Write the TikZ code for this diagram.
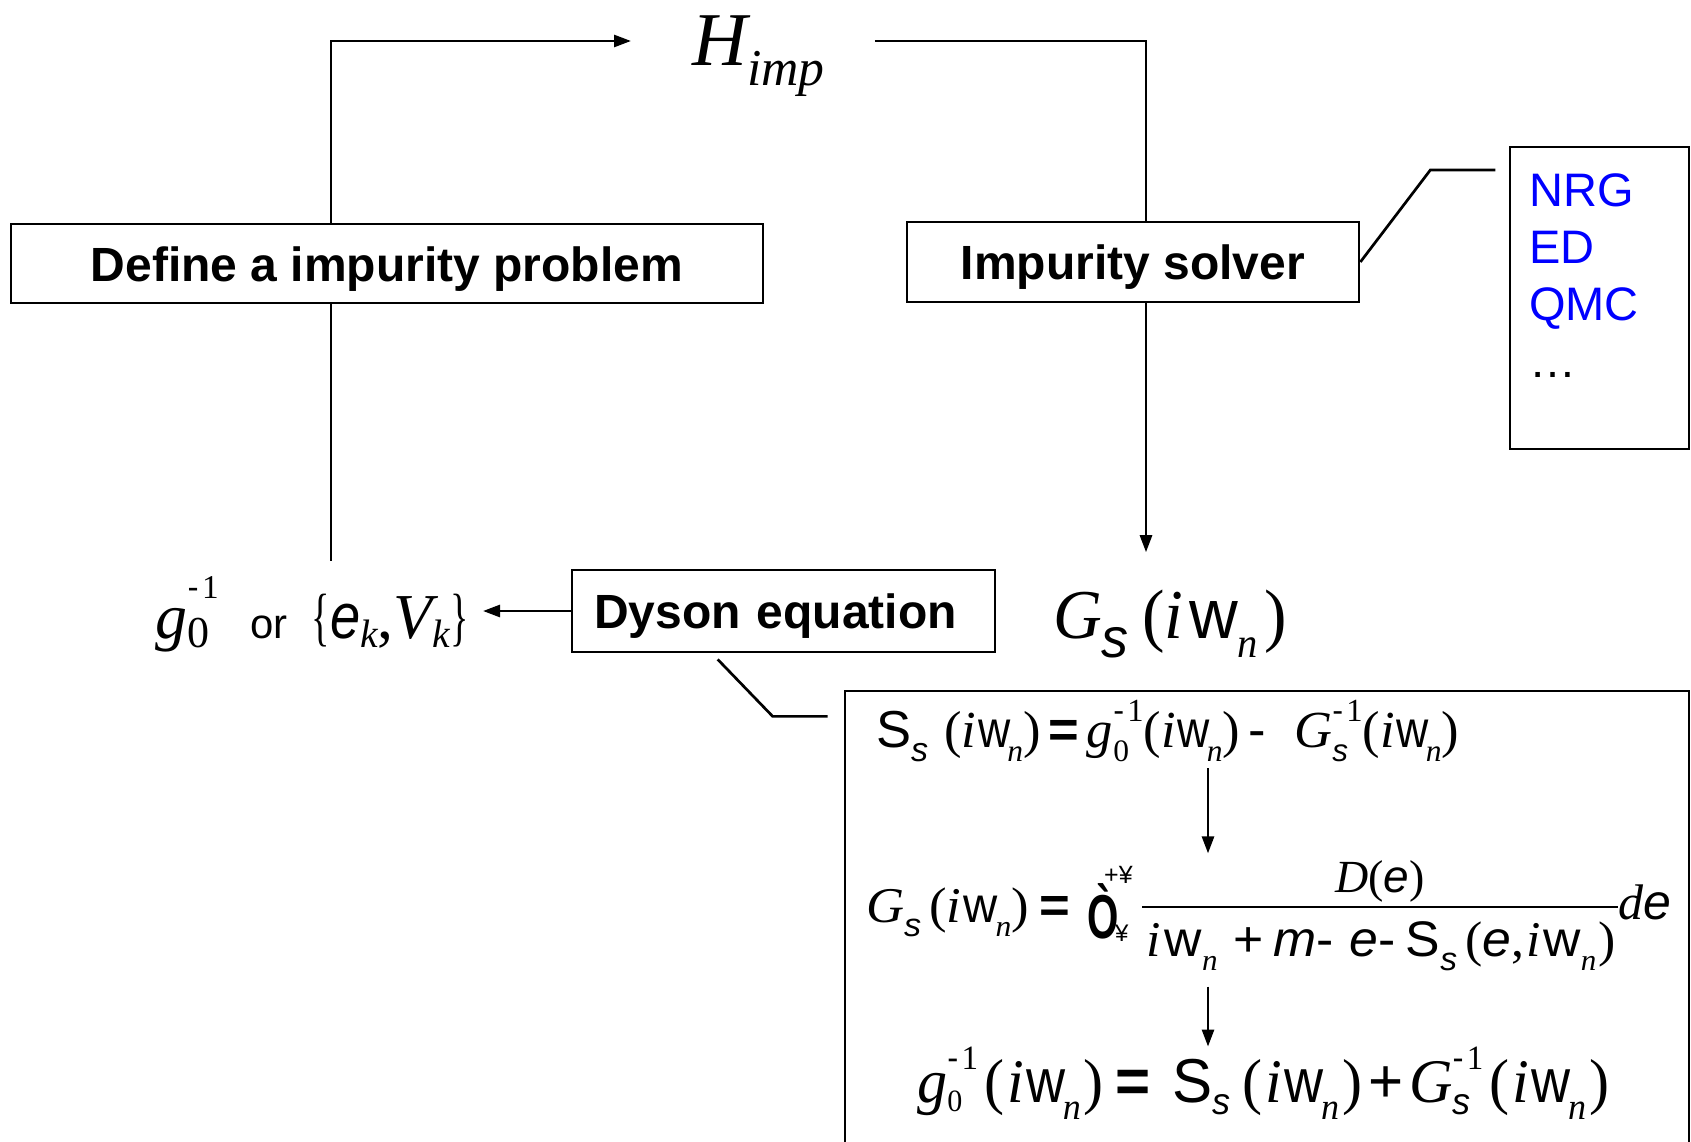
\documentclass[tikz,border=0pt]{standalone}
\usepackage{fontspec}
\usepackage{graphicx}
\setmainfont{Liberation Sans}
\newfontfamily\tmsf{Liberation Serif}
\newfontfamily\arsf{Liberation Sans}
\usetikzlibrary{arrows.meta,calc}
\definecolor{nrgblue}{RGB}{0,0,255}
\makeatletter
\newcommand\rs[1]{\fontsize{\fpeval{#1*\f@size}}{\fpeval{1.2*#1*\f@size}}\selectfont}
\makeatother
\newcommand\fs[1]{\fontsize{#1}{#1}\selectfont}
\newcommand\ti[1]{{\tmsf\itshape #1}}
\newcommand\tu[1]{{\tmsf #1}}
\newcommand\ai[1]{{\arsf\itshape #1}}
\newcommand\au[1]{{\arsf #1}}
\newcommand\lo[3][0.28]{\raisebox{-#1em}{\rs{#2}#3}}
\newcommand\hi[3][0.55]{\raisebox{#1em}{\rs{#2}#3}}
\newcommand\W[1][1]{\scalebox{#1}[1]{\au{w}}}
\newcommand\ep[1][1]{\scalebox{#1}[1]{\ai{e}}}
% (i w_n): inner space, w scale, kern before n
\newcommand\iwnx[3]{\tu{(}\hspace{#1em}\ti{i}\hspace{0.04em}\W[#2]\hspace{#3em}\lo{0.6}{\ti{n}}\hspace{#1em}\tu{)}}
\newcommand\mone{\au{-}\hspace{0.1em}\tu{1}}
\begin{document}
\begin{tikzpicture}[x=1pt,y=-1pt,
  conn/.style={line width=2.7pt},
  arr/.style={conn,-{Triangle[length=17pt,width=12pt]}},
  box/.style={draw,line width=2.7pt,inner sep=0pt,font={\fs{48}\bfseries},text height=40pt,text depth=5pt},
  eqn/.style={inner sep=0pt,anchor=base west}]
\useasboundingbox (0,0) rectangle (1691,1142);
\clip (0,0) rectangle (1691,1142);

% boxes
\node[box,minimum width=752pt,minimum height=79pt] (def) at (387,263.5) {Define a impurity problem};
\node[box,minimum width=452pt,minimum height=80pt] (solver) at (1133,262) {Impurity solver};
\node[box,minimum width=423pt,minimum height=82pt,text width=379pt,align=left,inner xsep=22pt] (dyson) at (783.5,611) {Dyson equation};
\node[draw,line width=2.7pt,minimum width=179pt,minimum height=302pt,inner sep=0pt] (nrg) at (1599.5,298) {};
\node[eqn,font=\fs{47},text=nrgblue] (m1) at (1529,207) {NRG};
\node[eqn,font=\fs{47},text=nrgblue] (m2) at (1529,263) {ED};
\node[eqn,font=\fs{47},text=nrgblue] (m3) at (1529,320) {QMC};
\node[eqn,font=\fs{47}] (m4) at (1529,377) {…};

% H_imp
\node[anchor=base west,inner xsep=61pt,inner ysep=0pt,text height=56pt,text depth=6pt] (H) at (631,66)
  {\fs{76}\ti{H}\lo[0.26]{0.68}{\ti{imp}}\hspace*{-11pt}};

% g0 or {e_k,V_k}
\node[anchor=base east,inner xsep=14pt,inner ysep=15pt] (gnode) at (483,638)
  {\resizebox{313pt}{\height}{\fs{64}\ti{g}\makebox[0pt][l]{\lo[0.15]{0.69}{\tu{0}}}\hi[0.62]{0.52}{\mone}\hspace{32pt}{\fs{42}\au{or}}\hspace{24pt}\scalebox{0.6}[1]{\tu{\{}}\ep[0.85]\lo[0.15]{0.62}{\ti{k}}\tu{,}\ti{V}\lo[0.15]{0.62}{\ti{k}}\scalebox{0.6}[1]{\tu{\}}}}};

% G_s(iw_n)
\node[anchor=base west,inner xsep=0pt,inner ysep=37pt] (gs) at (1053,638)
  {\resizebox{234pt}{\height}{\fs{70}\ti{G}\lo[0.28]{0.8}{\ai{s}}\hspace{0.2em}\tu{(}\ti{i}\hspace{0.08em}\W\lo[0.28]{0.6}{\ti{n}}\hspace{0.1em}\tu{)}}};

% connectors
\coordinate (jl) at (331,0);
\coordinate (jr) at (1146,0);
\coordinate (jm) at (1208,0);
\draw[arr] (jl |- def.north) |- (H.west);
\draw[conn] (H.east) -| (jr |- solver.north);
\draw[arr] (jr |- solver.south) -- (jr |- gs.north);
\draw[conn] (jl |- def.south) -- (jl |- gnode.north);
\draw[arr] (dyson.west) -- (dyson.west -| gnode.east);
\draw[conn] (solver.east) -- ++(70,-92) -- ++(65,0);
\draw[conn] ($(dyson.south west)+(147,6)$) -- ++(55,57) -- ++(55,0);

% equation box
\draw[conn] (845,1160) -- (845,691) -- (1689,691) -- (1689,1160);

% eq1
\node[anchor=base west,inner xsep=0pt,inner ysep=6pt] (eq1) at (876,747)
  {\resizebox{583pt}{\height}{\fs{52}\au{S}\lo{0.65}{\ai{s}}\hspace{0.3em}\iwnx{0}{0.85}{-0.06}\hspace{0.15em}{\bfseries\au{=}}\hspace{0.15em}\ti{g}\makebox[0pt][l]{\lo{0.6}{\tu{0}}}\hi[0.5]{0.62}{\mone}\iwnx{0}{0.85}{-0.06}\hspace{0.15em}\au{-}\hspace{0.55em}\ti{G}\makebox[0pt][l]{\lo{0.6}{\ai{s}}}\hi[0.5]{0.62}{\mone}\iwnx{0}{0.85}{-0.06}}};

% eq2
\node[eqn] (lhs) at (866,922) {\resizebox{204pt}{\height}{\fs{50}\ti{G}\lo{0.65}{\ai{s}}\hspace{0.15em}\iwnx{0}{0.9}{-0.04}\hspace{0.2em}{\bfseries\au{=}}}};
\node[eqn] (int) at (1087,938) {\scalebox{0.65}[1]{\fs{62}\bfseries\au{Ò}}};
\node[eqn] (up) at (1104,883) {\fs{25}\au{+¥}};
\node[eqn] (dn) at (1115,941) {\fs{24}\au{¥}};
\node[anchor=base,inner xsep=0pt,inner ysep=6.5pt] (num) at (1380,892) {\fs{46}\ti{D}\tu{(}\ep\tu{)}};
\node[anchor=base west,inner xsep=0pt,inner ysep=16pt] (den) at (1146,956)
  {\resizebox{470pt}{\height}{\fs{50}\ti{i}\hspace{0.08em}\W\lo{0.6}{\ti{n}}\hspace{0.3em}\au{+}\hspace{0.2em}\ai{m}\au{-}\hspace{0.3em}\ep\au{-}\hspace{0.2em}\au{S}\lo{0.65}{\ai{s}}\hspace{0.15em}\tu{(}\ep\tu{,}\hspace{0.05em}\ti{i}\hspace{0.05em}\W\lo{0.6}{\ti{n}}\hspace{0.05em}\tu{)}}};
\draw[conn] (1142,907) -- (1618,907);
\node[eqn] (de) at (1618,919) {\fs{50}\ti{d}\ep};

% eq3
\node[anchor=base west,inner xsep=0pt,inner ysep=0.5pt] (eq3) at (917,1102)
  {\resizebox{692pt}{\height}{\fs{62}\ti{g}\makebox[0pt][l]{\lo[0.15]{0.5}{\tu{0}}}\hi[0.52]{0.55}{\mone}\hspace{0.1em}\iwnx{0.05}{0.9}{-0.04}\hspace{0.2em}{\bfseries\au{=}}\hspace{0.35em}\au{S}\lo[0.2]{0.6}{\ai{s}}\hspace{0.2em}\iwnx{0.05}{0.9}{-0.04}\hspace{0.1em}\au{+}\hspace{0.1em}\ti{G}\makebox[0pt][l]{\lo[0.2]{0.6}{\ai{s}}}\hi[0.52]{0.55}{\mone}\hspace{0.1em}\iwnx{0.05}{0.9}{-0.04}}};

\draw[arr] (jm |- eq1.south) -- (jm |- num.north);
\draw[arr] (jm |- den.south) -- (jm |- eq3.north);
\end{tikzpicture}
\end{document}
